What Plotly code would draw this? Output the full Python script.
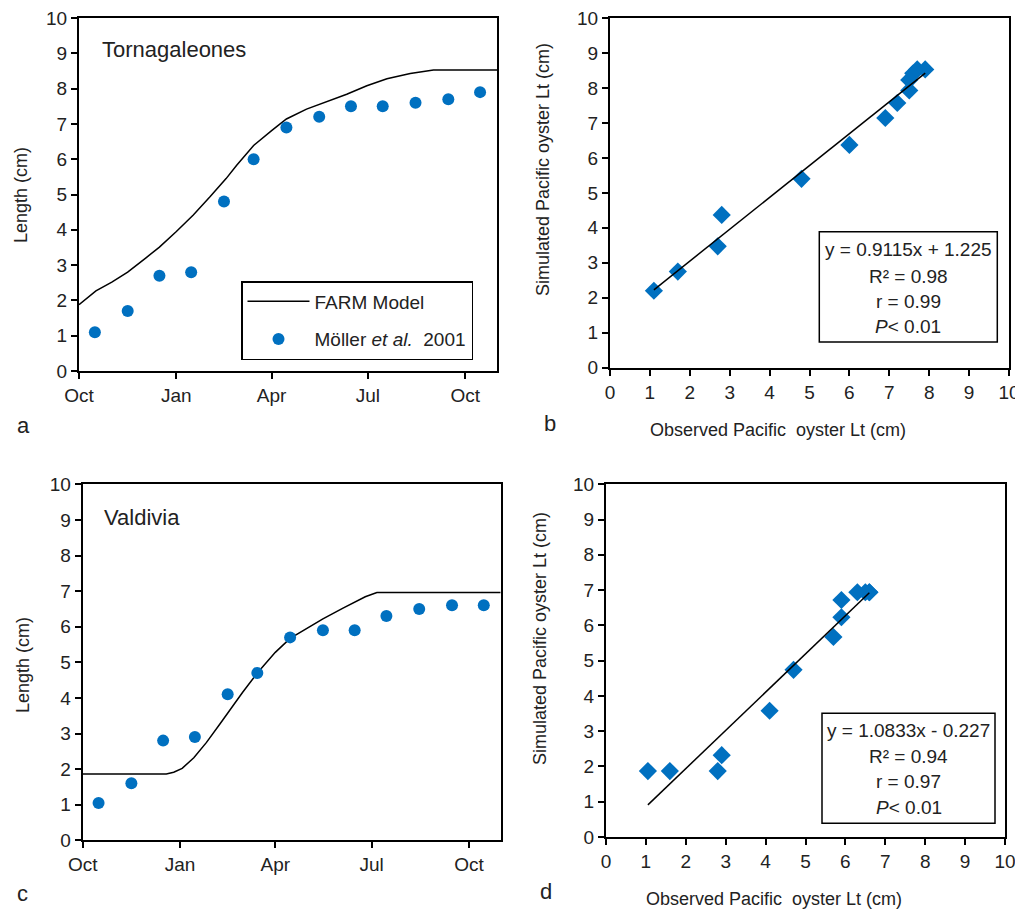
import plotly.graph_objects as go

# The page body has an 8px margin, so the figure is sized to fill the rest of the window.
OFF = 8
W, H = 1023 - OFF, 913 - OFF
FONT = "Liberation Sans Narrow, Arial Narrow, Liberation Sans, Arial, sans-serif"
BLUE = "#0070C0"

# ---------------- Data ----------------
obs_dates_a = ["2000-10-16", "2000-11-16", "2000-12-16", "2001-01-15", "2001-02-15", "2001-03-15",
               "2001-04-15", "2001-05-16", "2001-06-15", "2001-07-15", "2001-08-15", "2001-09-15",
               "2001-10-15"]
obs_a = [1.1, 1.7, 2.7, 2.8, 4.8, 6.0, 6.9, 7.2, 7.5, 7.5, 7.6, 7.7, 7.9]
model_dates_a = ["2000-10-01", "2000-10-17", "2000-11-01", "2000-11-16", "2000-12-03", "2000-12-16",
                 "2001-01-01", "2001-01-17", "2001-02-02", "2001-02-17", "2001-02-27", "2001-03-15",
                 "2001-04-01", "2001-04-15", "2001-05-04", "2001-05-23", "2001-06-11", "2001-06-30",
                 "2001-07-19", "2001-08-10", "2001-09-01", "2001-10-31"]
model_a = [1.88, 2.27, 2.52, 2.80, 3.20, 3.51, 3.95, 4.42, 4.94, 5.45, 5.83, 6.39,
           6.81, 7.14, 7.42, 7.63, 7.84, 8.08, 8.28, 8.43, 8.53, 8.53]
sim_b = [2.2, 2.75, 3.47, 4.37, 5.4, 6.37, 7.14, 7.57, 7.93, 8.23, 8.42, 8.53, 8.53]
fit_b = (0.9115, 1.225)

obs_dates_c = obs_dates_a
obs_c = [1.05, 1.6, 2.8, 2.9, 4.1, 4.7, 5.7, 5.9, 5.9, 6.3, 6.5, 6.6, 6.6]
model_dates_c = ["2000-10-01", "2000-12-19", "2000-12-26", "2001-01-03", "2001-01-14", "2001-01-26",
                 "2001-02-08", "2001-02-15", "2001-03-01", "2001-03-15", "2001-04-01", "2001-04-15",
                 "2001-05-01", "2001-05-16", "2001-06-04", "2001-06-15", "2001-06-25", "2001-07-06",
                 "2001-10-31"]
model_c = [1.86, 1.86, 1.91, 2.02, 2.32, 2.75, 3.28, 3.58, 4.15, 4.70, 5.28, 5.67,
           5.95, 6.22, 6.52, 6.70, 6.84, 6.96, 6.96]
sim_d = [1.87, 1.87, 1.87, 2.32, 3.58, 4.74, 5.67, 6.23, 6.72, 6.94, 6.94, 6.94, 6.94]
fit_d = (1.0833, -0.227)

stats_b = ["y = 0.9115x + 1.225", "R² = 0.98", "r = 0.99", "<i>P</i>< 0.01"]
stats_d = ["y = 1.0833x - 0.227", "R² = 0.94", "r = 0.97", "<i>P</i>< 0.01"]

# ---------------- Helpers (window pixels -> paper fractions) ----------------
def px(x):
    return (x - OFF) / W

def py(y):
    return 1 - (y - OFF) / H

fig = go.Figure()

# Panel a
fig.add_trace(go.Scatter(x=model_dates_a, y=model_a, mode="lines", name="FARM Model",
                         line=dict(color="black", width=1.5), xaxis="x", yaxis="y",
                         legendgroup="g1"))
fig.add_trace(go.Scatter(x=obs_dates_a, y=obs_a, mode="markers", name="Möller <i>et al.</i>  2001",
                         marker=dict(color=BLUE, size=12, symbol="circle"), xaxis="x", yaxis="y",
                         legendgroup="g2"))

# Panel b
fig.add_trace(go.Scatter(x=obs_a, y=sim_b, mode="markers", showlegend=False,
                         marker=dict(color=BLUE, size=14, symbol="diamond"), xaxis="x2", yaxis="y2"))
xb = [min(obs_a), max(obs_a)]
fig.add_trace(go.Scatter(x=xb, y=[fit_b[0] * v + fit_b[1] for v in xb], mode="lines", showlegend=False,
                         line=dict(color="black", width=1.5), xaxis="x2", yaxis="y2"))

# Panel c
fig.add_trace(go.Scatter(x=model_dates_c, y=model_c, mode="lines", showlegend=False,
                         line=dict(color="black", width=1.5), xaxis="x3", yaxis="y3"))
fig.add_trace(go.Scatter(x=obs_dates_c, y=obs_c, mode="markers", showlegend=False,
                         marker=dict(color=BLUE, size=12, symbol="circle"), xaxis="x3", yaxis="y3"))

# Panel d
fig.add_trace(go.Scatter(x=obs_c, y=sim_d, mode="markers", showlegend=False,
                         marker=dict(color=BLUE, size=14, symbol="diamond"), xaxis="x4", yaxis="y4"))
xd = [min(obs_c), max(obs_c)]
fig.add_trace(go.Scatter(x=xd, y=[fit_d[0] * v + fit_d[1] for v in xd], mode="lines", showlegend=False,
                         line=dict(color="black", width=1.5), xaxis="x4", yaxis="y4"))

common = dict(showline=True, linecolor="black", linewidth=2, mirror=True, ticks="outside",
              ticklen=6, tickwidth=1.5, tickcolor="black", showgrid=False, zeroline=False,
              automargin=False, ticklabeloverflow="allow",
              tickfont=dict(family=FONT, size=19, color="#222"), fixedrange=True)

date_axis = dict(type="date", range=["2000-10-01", "2001-10-31"], tick0="2000-10-01",
                 dtick="M3", tickformat="%b", **common)
val_axis = dict(range=[0, 10], dtick=1, tick0=0, **common)

TOP = 18  # top of the upper panels, leaving room for the "10" tick labels

fig.update_layout(
    width=W, height=H,
    margin=dict(l=0, r=0, t=0, b=0, autoexpand=False),
    paper_bgcolor="white", plot_bgcolor="white",
    font=dict(family=FONT, size=19, color="#222"),
    xaxis=dict(domain=[px(79), px(497)], anchor="y", **date_axis),
    yaxis=dict(domain=[py(371), py(TOP)], anchor="x", **val_axis),
    xaxis2=dict(domain=[px(610), px(1009)], anchor="y2", **val_axis),
    yaxis2=dict(domain=[py(367.7), py(TOP)], anchor="x2", **val_axis),
    xaxis3=dict(domain=[px(82.7), px(500.7)], anchor="y3", **date_axis),
    yaxis3=dict(domain=[py(840.3), py(484.3)], anchor="x3", **val_axis),
    xaxis4=dict(domain=[px(606), px(1005)], anchor="y4", **val_axis),
    yaxis4=dict(domain=[py(837), py(484.3)], anchor="x4", **val_axis),
    showlegend=True,
    legend=dict(x=px(241), y=py(281), xanchor="left", yanchor="top",
                bordercolor="black", borderwidth=1.5, bgcolor="white",
                font=dict(family=FONT, size=19, color="#222"),
                tracegroupgap=10, itemwidth=62, entrywidth=186, entrywidthmode="pixels"),
)

annotations = []
shapes = []

def text(x, y, s, size=19, angle=0, xanchor="center"):
    annotations.append(dict(x=px(x), y=py(y), xref="paper", yref="paper", text=s, showarrow=False,
                            font=dict(family=FONT, size=size, color="#222"), textangle=angle,
                            xanchor=xanchor, yanchor="middle"))

# Site labels
text(100, 49, "Tornagaleones", size=22, xanchor="left")
text(101.7, 517, "Valdivia", size=22, xanchor="left")

# Axis titles
text(21, 195, "Length (cm)", size=18, angle=-90)
text(23, 665, "Length (cm)", size=18, angle=-90)
text(543, 170, "Simulated Pacific oyster Lt (cm)", size=18, angle=-90)
text(540, 639, "Simulated Pacific oyster Lt (cm)", size=18, angle=-90)
text(777.5, 430, "Observed Pacific  oyster Lt (cm)", size=18)
text(774, 899, "Observed Pacific  oyster Lt (cm)", size=18)

# Panel letters
text(15, 425, "a", size=22, xanchor="left")
text(542, 423, "b", size=22, xanchor="left")
text(15, 893, "c", size=22, xanchor="left")
text(538, 891, "d", size=22, xanchor="left")

# Stats boxes
def stats_box(x0, y0, x1, y1, lines, ys):
    shapes.append(dict(type="rect", xref="paper", yref="paper", x0=px(x0), x1=px(x1),
                       y0=py(y1), y1=py(y0), line=dict(color="black", width=1.5),
                       fillcolor="white", layer="above"))
    cx = (x0 + x1) / 2
    for s, yy in zip(lines, ys):
        text(cx, yy, s, size=19)

stats_box(819.3, 231.7, 997.3, 342, stats_b, [249, 276, 301, 327])
stats_box(822, 713.3, 995, 823.3, stats_d, [730, 756.7, 781.7, 807.3])

fig.update_layout(annotations=annotations, shapes=shapes)

fig.write_html("out.html")
